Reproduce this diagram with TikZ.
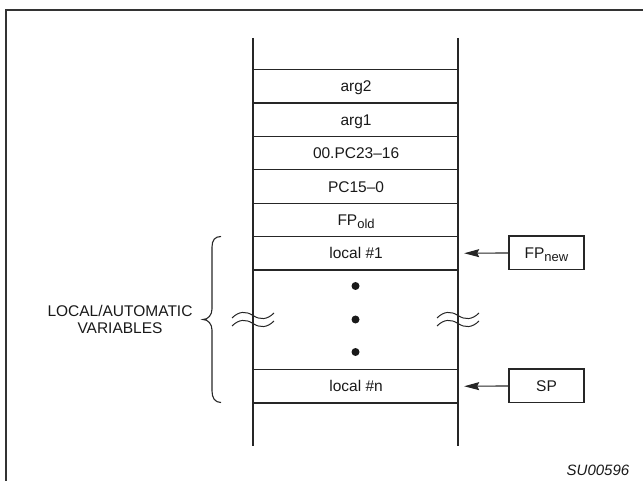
\documentclass[tikz,border=0pt]{standalone}
\usepackage{fontspec}
\setmainfont{Liberation Sans}
\usetikzlibrary{arrows.meta}
\newcommand{\lowsub}[1]{\raisebox{-3.5pt}{\fontsize{13}{13}\selectfont #1}}
\begin{document}
\begin{tikzpicture}[x=1pt,y=-1pt,
  ink/.style={draw=black!85, line width=1.2pt},
  txt/.style={font=\fontsize{15.5}{17}\selectfont, text=black!90},
  cell/.style={ink, txt, rectangle, minimum width=205pt, minimum height=33.4pt,
    inner sep=0pt, anchor=north west, text height=11.1pt, text depth=0pt},
  tagbox/.style={ink, txt, rectangle, minimum width=75pt, minimum height=33.4pt,
    inner sep=0pt, text height=11.1pt, text depth=0pt},
  dotmark/.style={circle, fill=black!90, minimum size=8pt, inner sep=0pt},
  ptr/.style={draw=black!85, line width=1.1pt, -{Stealth[length=15pt,width=8pt,inset=2pt]}, shorten >=5pt},
  wave/.style={draw=black!85, line width=1pt},
]
\useasboundingbox (0,0) rectangle (643,481);

% outer frame (right and bottom outside picture)
\draw[draw=black!80, line width=2pt] (6,482) -- (6,10) -- (644,10);

% stack walls
\coordinate (wlt) at (253,38);
\coordinate (wlb) at (253,446);
\coordinate (wrt) at (458,38);
\coordinate (wrb) at (458,446);
\draw[ink] (wlt) -- (wlb);
\draw[ink] (wrt) -- (wrb);

% stack cells
\node[cell] (arg2)   at (253,69)    {arg2};
\node[cell] (arg1)   at (253,102.4) {arg1};
\node[cell] (pchi)   at (253,135.8) {00.PC23--16};
\node[cell] (pclo)   at (253,169.2) {PC15--0};
\node[cell] (fpold)  at (253,202.6) {FP\lowsub{old}};
\node[cell] (local1) at (253,236)   {local \#1};
\node[cell] (localn) at (253,369)   {local \#n};

% dots
\node[dotmark] (d1) at (355.5,286) {};
\node[dotmark] (d2) at (355.5,319.5) {};
\node[dotmark] (d3) at (355.5,352) {};

% break marks
\foreach \cx in {253,458}{
  \foreach \yy in {315.5,323.5}{
    \draw[wave] (\cx-21,\yy+2.5) .. controls (\cx-14,\yy-4.5) and (\cx-7,\yy-4.5) .. (\cx,\yy)
      .. controls (\cx+7,\yy+4.5) and (\cx+14,\yy+4.5) .. (\cx+21,\yy-2.5);
  }
}

% pointer boxes
\node[tagbox] (fpnew) at (546.5,252.7) {FP\lowsub{new}};
\node[tagbox] (sp)    at (546.5,385.7) {SP};
\draw[ptr] (fpnew) -- (local1.east);
\draw[ptr] (sp) -- (localn.east);

% brace
\draw[draw=black!85, line width=1.1pt]
  (221,236.5) .. controls (215,236.5) and (212,240) .. (212,247)
  -- (212,309) .. controls (212,315) and (208,319.5) .. (203,319.5)
  .. controls (208,319.5) and (212,324) .. (212,330)
  -- (212,391) .. controls (212,398) and (215,402.5) .. (221,402.5);

\node[txt, align=center, inner sep=0pt] (lbl) at (120,319.5) {LOCAL/AUTOMATIC\\VARIABLES};

\node[txt, font=\fontsize{15}{17}\selectfont\itshape, inner sep=0pt] (fig) at (598,470) {SU00596};
\end{tikzpicture}
\end{document}
